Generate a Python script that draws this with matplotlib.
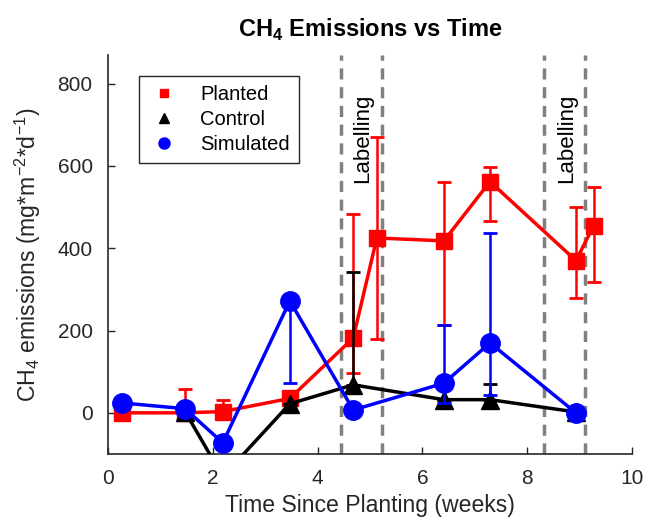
import numpy as np
import matplotlib
matplotlib.use('Agg')
import matplotlib.pyplot as plt
from matplotlib.lines import Line2D

plt.rcParams['font.family'] = ['Liberation Sans', 'DejaVu Sans']
plt.rcParams['mathtext.fontset'] = 'custom'
plt.rcParams['mathtext.rm'] = 'Liberation Sans'
plt.rcParams['mathtext.bf'] = 'Liberation Sans:bold'

# Planted
planted_x = [0.27, 1.47, 2.19, 3.47, 4.68, 5.13, 6.41, 7.29, 8.93, 9.27]
planted_y = [0, 0, 3, 35, 182, 425, 418, 562, 370, 455]
planted_lo = [0, 0, 0, 0, 85, 245, 204, 95, 90, 137]
planted_hi = [0, 58, 29, 15, 301, 245, 142, 36, 130, 95]

# Control
control_x = [1.47, 2.19, 3.47, 4.68, 6.41, 7.29, 8.93]
control_y = [3, -155, 22, 68, 32, 32, 2]
control_lo = [0, 0, 0, 0, 0, 0, 0]
control_hi = [22, 0, 0, 275, 0, 38, 0]

# Simulated
sim_x = [0.27, 1.47, 2.19, 3.47, 4.68, 6.41, 7.29, 8.93]
sim_y = [24, 10, -73, 272, 7, 72, 170, 0]
sim_lo = [0, 0, 0, 200, 0, 48, 126, 0]
sim_hi = [0, 0, 0, 0, 0, 141, 267, 0]

label_lines = [4.45, 5.22, 8.32, 9.1]
label_pos = [4.85, 8.76]

dark = '#262626'

fig = plt.figure(figsize=(6.48, 5.23), dpi=100)
ax = fig.add_axes([0.1667, 0.132, 0.8086, 0.763])

for xv in label_lines:
    ax.axvline(xv, color='#808080', linestyle=(0, (3.2, 2.2)), linewidth=2.5, zorder=1)
for xv in label_pos:
    ax.text(xv, 775, 'Labelling', rotation=90, ha='center', va='top', fontsize=16, color='k')

ax.errorbar(planted_x, planted_y, yerr=[planted_lo, planted_hi], color='red', marker='s',
            markersize=11, linewidth=2.5, elinewidth=1.8, capsize=5, capthick=2, zorder=3)
ax.errorbar(control_x, control_y, yerr=[control_lo, control_hi], color='black', marker='^',
            markersize=13, linewidth=2.5, elinewidth=1.8, capsize=5, capthick=2, zorder=4)
ax.errorbar(sim_x, sim_y, yerr=[sim_lo, sim_hi], color='blue', marker='o',
            markersize=14, linewidth=2.5, elinewidth=1.8, capsize=5, capthick=2, zorder=5)

ax.set_xlim(0, 10)
ax.set_ylim(-100, 870)
ax.set_xticks([0, 2, 4, 6, 8, 10])
ax.set_yticks([0, 200, 400, 600, 800])
ax.spines['top'].set_visible(False)
ax.spines['right'].set_visible(False)
for s in ['left', 'bottom']:
    ax.spines[s].set_color(dark)
    ax.spines[s].set_linewidth(1.2)
ax.tick_params(direction='in', length=5, width=1, colors=dark, labelsize=15, labelcolor=dark)
ax.tick_params(axis='x', pad=11)
ax.tick_params(axis='y', pad=11)

ax.set_xlabel('Time Since Planting (weeks)', fontsize=16.6, color=dark, labelpad=4)
ax.set_ylabel('CH$_4$ emissions (mg*m$^{-2}$*d$^{-1}$)', fontsize=16.6, color=dark)
ax.yaxis.set_label_coords(-0.125, 0.5)
ax.set_title('CH$_\\mathbf{4}$ Emissions vs Time', fontsize=17, fontweight='bold', pad=13)

hs = [Line2D([], [], color='red', marker='s', linestyle='none', markersize=6),
      Line2D([], [], color='black', marker='^', linestyle='none', markersize=7.5),
      Line2D([], [], color='blue', marker='o', linestyle='none', markersize=8)]
leg = ax.legend(hs, ['Planted', 'Control', 'Simulated'], loc='upper left',
                bbox_to_anchor=(0.059, 0.947), borderaxespad=0, fontsize=14.5,
                fancybox=False, edgecolor=dark, framealpha=1, handletextpad=1.0,
                handlelength=1.6, labelspacing=0.3, borderpad=0.45)
leg.get_frame().set_linewidth(1)

fig.savefig('out.png', dpi=100)
